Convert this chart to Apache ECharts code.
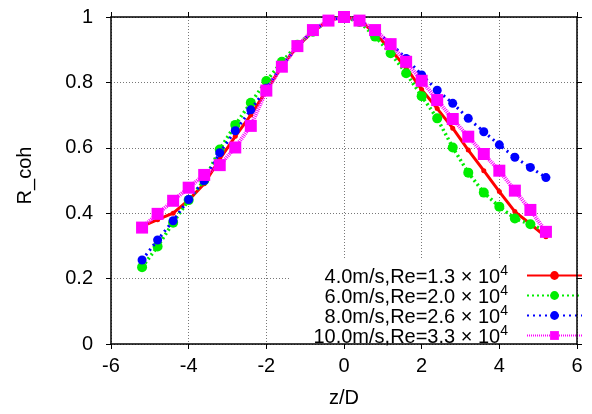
<!DOCTYPE html>
<html>
<head>
<meta charset="utf-8">
<script src="https://cdn.jsdelivr.net/npm/echarts@6/dist/echarts.min.js"></script>
<style>
html,body{margin:0;padding:0;background:#fff;}
#c{width:592px;height:414px;}
</style>
</head>
<body>
<div id="c"></div>
<script>
// z/D positions
var zD = [-5.2,-4.8,-4.4,-4.0,-3.6,-3.2,-2.8,-2.4,-2.0,-1.6,-1.2,-0.8,-0.4,0,0.4,0.8,1.2,1.6,2.0,2.4,2.8,3.2,3.6,4.0,4.4,4.8,5.2];
// R_coh for each case
var v40  = [0.36,0.38,0.40,0.44,0.49,0.565,0.635,0.70,0.775,0.85,0.91,0.955,0.99,1.0,0.99,0.95,0.90,0.845,0.778,0.72,0.66,0.593,0.53,0.466,0.405,0.367,0.328];
var v60  = [0.235,0.298,0.371,0.44,0.50,0.595,0.67,0.738,0.804,0.863,0.915,0.955,0.99,1.0,0.985,0.94,0.889,0.828,0.758,0.69,0.601,0.524,0.463,0.42,0.384,0.366,0.345];
var v80  = [0.257,0.318,0.377,0.442,0.50,0.585,0.652,0.716,0.782,0.85,0.91,0.958,0.99,1.0,0.99,0.958,0.92,0.873,0.823,0.776,0.736,0.69,0.649,0.609,0.571,0.54,0.509];
var v100 = [0.356,0.398,0.438,0.478,0.517,0.547,0.601,0.667,0.775,0.848,0.911,0.96,0.989,1.0,0.989,0.96,0.917,0.863,0.805,0.746,0.688,0.634,0.581,0.53,0.469,0.41,0.343];
// legend parts
var speeds = ['4.0m/s','6.0m/s','8.0m/s','10.0m/s'];
var reVals = ['1.3','2.0','2.6','3.3'];
var xTicks = [-6,-4,-2,0,2,4,6];
var yTicks = [0,0.2,0.4,0.6,0.8,1];

var names = speeds.map(function(s,i){ return s + ',Re=' + reVals[i] + ' × 10^4'; });
function pts(arr){ return zD.map(function(x,i){ return [x, arr[i]]; }); }

var FONT = '"Liberation Sans", Arial, sans-serif';
var chart = echarts.init(document.getElementById('c'), null, {renderer:'canvas'});

var axisCommon = {
  axisLine:{show:true, onZero:false, lineStyle:{color:'#000', width:1.5}},
  axisTick:{show:true, inside:false, length:5, lineStyle:{color:'#000', width:1}},
};

chart.setOption({
  animation:false,
  backgroundColor:'#fff',
  grid:{left:111, right:15, top:17, bottom:70},
  xAxis:[
    Object.assign({
      type:'value', min:xTicks[0], max:xTicks[xTicks.length-1], interval:2, position:'bottom',
      name:'z/D', nameLocation:'middle', nameGap:44,
      nameTextStyle:{fontFamily:FONT, fontSize:20, color:'#000'},
      axisLabel:{fontFamily:FONT, fontSize:20, color:'#000', margin:12},
      splitLine:{show:true, lineStyle:{color:'#777', width:1, type:[1,2]}}
    }, axisCommon),
    Object.assign({
      type:'value', min:xTicks[0], max:xTicks[xTicks.length-1], interval:2, position:'top',
      axisLabel:{show:false}, splitLine:{show:false}
    }, axisCommon)
  ],
  yAxis:[
    Object.assign({
      type:'value', min:yTicks[0], max:yTicks[yTicks.length-1], interval:0.2, position:'left',
      name:'R_coh', nameLocation:'middle', nameGap:76,
      nameTextStyle:{fontFamily:FONT, fontSize:20, color:'#000', padding:[0,0,0,10]},
      axisLabel:{fontFamily:FONT, fontSize:20, color:'#000', margin:18},
      splitLine:{show:true, lineStyle:{color:'#777', width:1, type:[1,2]}}
    }, axisCommon),
    Object.assign({
      type:'value', min:yTicks[0], max:yTicks[yTicks.length-1], interval:0.2, position:'right', z:10,
      axisLabel:{show:false}, splitLine:{show:false}
    }, axisCommon)
  ],
  graphic:[{
    type:'rect', z:1, silent:true,
    shape:{x:289, y:258, width:287, height:85},
    style:{fill:'#fff'}
  }],
  legend:{
    orient:'vertical', right:4, top:259, align:'right',
    itemWidth:55, itemHeight:11, itemGap:-3, z:3,
    data:names,
    formatter:function(n){
      var p = n.split(' × 10^');
      return '{t|' + p[0] + ' × 10}{s|' + p[1] + '}';
    },
    textStyle:{
      fontFamily:FONT, color:'#000', padding:[0,14,0,0],
      rich:{
        t:{fontFamily:FONT, fontSize:20, color:'#000', lineHeight:23, verticalAlign:'bottom'},
        s:{fontFamily:FONT, fontSize:14, color:'#000', lineHeight:14, verticalAlign:'top'}
      }
    }
  },
  series:[
    {name:names[0], type:'line', data:pts(v40), symbol:'circle', symbolSize:5,
     itemStyle:{color:'#ff0000'}, lineStyle:{color:'#ff0000', width:3, type:'solid'}, z:2},
    {name:names[1], type:'line', data:pts(v60), symbol:'circle', symbolSize:10,
     itemStyle:{color:'#00ee00'}, lineStyle:{color:'#00ee00', width:3.5, type:[2,3]}, z:3},
    {name:names[2], type:'line', data:pts(v80), symbol:'circle', symbolSize:9,
     itemStyle:{color:'#0000ff'}, lineStyle:{color:'#0000ff', width:3, type:[2,4]}, z:4},
    {name:names[3], type:'line', data:pts(v100), symbol:'rect', symbolSize:12,
     itemStyle:{color:'#ff00ff'}, lineStyle:{color:'#ff00ff', width:4, type:[1,1]}, z:5}
  ]
});
</script>
</body>
</html>
